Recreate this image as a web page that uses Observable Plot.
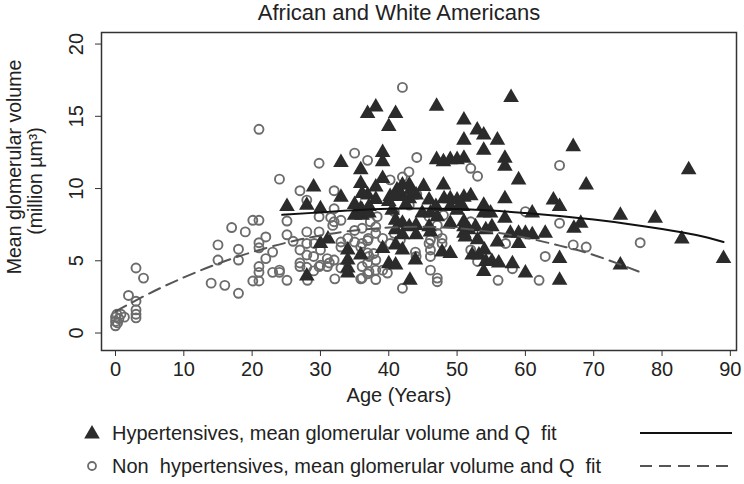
<!DOCTYPE html>
<html>
<head>
<meta charset="utf-8">
<script src="https://cdn.jsdelivr.net/npm/d3@7"></script>
<script src="https://cdn.jsdelivr.net/npm/@observablehq/plot@0.6"></script>
<style>
  body { margin: 0; background: #fff; }
  #wrap { position: relative; width: 744px; height: 484px; overflow: hidden; font-family: "Liberation Sans", Arial, Helvetica, sans-serif; color: #222; }
  #title { position: absolute; top: 0; left: 99px; width: 600px; text-align: center; font-size: 22px; line-height: 25px; color: #222; }
  #chart { position: absolute; top: 0; left: 0; }
  #overlay { position: absolute; top: 0; left: 0; }
</style>
</head>
<body>
<div id="wrap">
  <div id="chart"></div>
  <div id="title">African and White Americans</div>
  <svg id="overlay" width="744" height="484"></svg>
</div>
<script>
// ---- data ----
const xTicks = [0, 10, 20, 30, 40, 50, 60, 70, 80, 90];
const yTicks = [0, 5, 10, 15, 20];

// Hypertensives (triangles)
const hypAge = [25.1,28.0,29.0,28.0,30.0,31.1,30.0,33.0,33.0,35.9,36.9,35.9,35.0,35.9,35.0,36.9,34.0,34.0,34.0,34.0,35.9,
  38.1,41.0,40.0,47.0,51.0,51.0,39.1,39.1,47,48,49,50,51,39.1,38.1,42,43,45.1,48,41,42,43,44,40,36.1,38.1,37.1,36.1,
  45.9,46.9,48.1,49,50,51,52,41,42,41,43,42,44,44,46.1,49,51,51,36.1,37.1,39.1,41,42,40,43.9,47.8,49,43.1,
  44.9,45.9,49,50,46.1,47.1,40.5,42.5,41.2,41,
  57.9,52.95,53.9,55.9,53.9,57,57,59,67,50.8,57,53.9,54.9,53.9,57,61,64.1,65,67.1,51.7,52.7,54.2,55.1,53,51.2,
  57.8,59,60,61,62.9,59,55.9,52.2,53.2,54.2,55.1,56.1,58.1,53.9,60,65,65,
  68.9,83.9,73.9,79,82.9,89,73.9,68.1,51,54,40.2,43.2];
const hypVol = [8.75,8.85,10.1,3.95,6.2,6.5,8.6,11.8,9.4,11.3,15.2,10.35,8.9,8.6,8.15,9.55,5.75,5.05,4.5,4.15,5.4,
  15.65,15.2,14.3,15.7,14.75,13.35,12.5,11.85,12.0,11.85,12.0,12.0,12.1,10.7,10.1,10.25,10.25,10.15,10.25,9.6,9.45,9.3,9.55,9.1,9.65,9.25,8.75,8.5,
  9.2,8.75,9.3,9.3,9.2,9.4,9.5,7.8,7.6,7.15,7.35,6.8,7.45,6.8,7.0,7.6,7.7,6.9,8.15,8.3,5.85,6.1,5.75,4.8,5.05,5.6,5.5,3.65,
  8.3,7.35,8.75,8.5,8.3,8.05,8.5,8.9,9.9,4.7,
  16.3,14.05,13.7,13.35,12.65,12.1,11.55,10.6,12.9,8.75,9.3,8.85,8.3,8.3,7.95,8.3,9.2,8.75,7.25,7.15,7.35,7.15,7.35,6.45,6.65,
  6.9,6.9,6.9,6.8,6.9,6.2,6.3,5.4,5.4,4.95,4.95,4.85,4.8,4.25,4.15,5.15,3.65,
  10.25,11.3,8.15,7.95,6.5,5.15,4.7,7.6,7.35,5.75,9.45,9.9];

// Non hypertensives (circles)
const nonAge = [0,0,0,0.3,0.5,0.8,1.3,0.2,1.9,3.0,4.1,3.0,3.0,3.0,3.0,
  15,15,14,16,17,18,18,18,19,20.1,20.1,
  21,24,27,29.8,
  21,22,21,21,23,22,21,21,21,23,24,24,25.1,25.1,25.1,26,27,28,27,28,29,29,29.1,29.8,29.8,29.8,28,
  28,28.1,30,31,31.3,32,32,32,33,33,32.1,35,35.9,35.9,36.9,36.9,36.9,36.9,33,32,35,36.9,
  42,44.1,42.95,42,40.2,44.1,40.8,43,48,47.1,38.1,38.1,37,36.1,39.1,37.1,38.1,36.1,37.1,38.1,39.1,36.1,38.1,42,
  46.1,47.1,47.1,46.1,46.1,47.8,47.8,47.1,40.8,41.7,40.2,43.9,
  60,65,67,62.9,57.1,58.1,56,62,52,52,53,52,53,65,76.8,68.9,
  31.5,31.8,36.1,37.3,38.3,28,34,35,33,37.8,30,31,27,39.8,44,45.9,45.9,46.1];
const nonVol = [0.5,0.8,1.1,0.7,1.0,1.3,1.1,1.3,2.6,4.5,3.8,2.2,1.6,1.3,1.05,
  6.1,5.05,3.45,3.3,7.3,5.8,5.05,2.75,7.0,7.8,3.6,
  14.1,10.65,9.85,11.75,
  7.8,6.65,6.25,5.9,5.6,5.15,4.6,4.2,3.6,4.2,4.35,4.2,3.65,7.75,6.8,6.35,5.75,7.0,4.6,5.4,5.3,4.3,6.2,8.05,7.0,4.6,9.2,
  4.55,3.65,4.7,4.6,4.85,5.05,8.6,7.7,7.8,6.3,3.75,7.1,5.95,3.75,6.4,5.55,4.85,4.1,4.5,9.85,12.45,11.95,
  17.0,12.15,11.15,10.8,10.6,9.6,8.4,8.85,8.15,7.45,7.35,6.9,6.55,6.2,6.55,5.3,5.05,4.6,4.25,4.35,4.35,3.8,3.7,3.1,
  4.35,3.8,3.55,5.75,5.3,6.55,6.2,6.9,6.9,6.45,6.2,5.6,
  8.4,7.6,6.1,5.3,6.2,4.45,3.65,3.65,7.7,5.75,4.95,11.4,10.85,11.6,6.25,5.95,
  8.0,7.45,7.25,7.7,8.05,6.2,6.55,6.3,5.95,5.5,5.75,5.15,4.85,4.15,5.3,6.2,8.05,6.45];

// Quadratic fit curves
const fitHypAge = [24.4,30,35,40,45,50,55,60,65,70,75,80,85,89];
const fitHypVol = [8.18,8.35,8.5,8.6,8.62,8.58,8.48,8.3,8.1,7.85,7.55,7.2,6.78,6.3];
const fitNonAge = [0,5,10,15,20,25,30,35,40,45,50,55,60,65,70,76.6];
const fitNonVol = [1.5,2.75,3.85,4.8,5.6,6.25,6.75,7.1,7.3,7.35,7.25,7.0,6.6,6.05,5.4,4.25];

const yTitle = ["Mean glomerular volume", "(million µm³)"];
const xTitle = "Age (Years)";
const legendLabels = [
  "Hypertensives, mean glomerular volume and Q  fit",
  "Non  hypertensives, mean glomerular volume and Q  fit"
];

// ---- tables ----
const hyp = hypAge.map((a, i) => ({age: a, vol: hypVol[i]}));
const non = nonAge.map((a, i) => ({age: a, vol: nonVol[i]}));
const fitHyp = fitHypAge.map((a, i) => ({age: a, vol: fitHypVol[i]}));
const fitNon = fitNonAge.map((a, i) => ({age: a, vol: fitNonVol[i]}));

const FONT = "Liberation Sans, Arial, Helvetica, sans-serif";
const TRI = "#2b2b2b", CIRC = "#6c6c6c", DASH = "#555555";
const TRI_R = 5.8, CIRC_R = 4.5;

const chart = Plot.plot({
  width: 744,
  height: 420,
  marginLeft: 101,
  marginRight: 8,
  marginTop: 32,
  marginBottom: 70,
  style: {fontFamily: FONT, fontSize: "20px", color: "#222", background: "transparent", overflow: "visible"},
  x: {domain: [-2.05, 90.9]},
  y: {domain: [-1.21, 20.8]},
  marks: [
    Plot.dot(non, {x: "age", y: "vol", r: CIRC_R, fill: "none", stroke: CIRC, strokeWidth: 1.9}),
    Plot.dot(hyp, {x: "age", y: "vol", symbol: "triangle", r: TRI_R, fill: TRI, stroke: "none"}),
    Plot.line(fitHyp, {x: "age", y: "vol", stroke: "#111", strokeWidth: 2, curve: "natural"}),
    Plot.line(fitNon, {x: "age", y: "vol", stroke: DASH, strokeWidth: 2, strokeDasharray: "12,7", curve: "natural"}),
    Plot.frame({stroke: "#333", strokeWidth: 1.5}),
    Plot.axisX({ticks: xTicks, tickSize: 6, tickPadding: 5, label: null, fontSize: 20, stroke: "#333"}),
    Plot.axisY({ticks: yTicks, tickSize: 6, tickFormat: () => "", label: null, stroke: "#333"}),
    Plot.text(yTicks, {y: d => d, text: d => String(d), frameAnchor: "left", rotate: -90,
      textAnchor: "middle", lineAnchor: "bottom", dx: -19, fontSize: 20, fill: "#222"}),
    Plot.text([xTitle], {frameAnchor: "bottom", textAnchor: "middle", dx: -20, dy: 51, fontSize: 20, fill: "#222"})
  ]
});
document.getElementById("chart").appendChild(chart);

// ---- y-axis title and legend (outside the plot frame) ----
const ov = d3.select("#overlay");
[[14, 167], [35, 181]].forEach(([cx, cy], i) => {
  ov.append("text").attr("transform", `translate(${cx},${cy}) rotate(-90)`)
    .attr("text-anchor", "middle").attr("dy", "0.35em")
    .attr("font-family", FONT).attr("font-size", 19.5).attr("fill", "#222").text(yTitle[i]);
});

const rows = [433, 466];
const tri = d3.symbol(d3.symbolTriangle, TRI_R * TRI_R * Math.PI)();
ov.append("path").attr("d", tri).attr("transform", `translate(92,${rows[0] + 1})`).attr("fill", TRI);
ov.append("circle").attr("cx", 92).attr("cy", rows[1]).attr("r", 4).attr("fill", "none").attr("stroke", CIRC).attr("stroke-width", 1.8);
legendLabels.forEach((t, i) => {
  ov.append("text").attr("x", 112).attr("y", rows[i] + 7).attr("style", "white-space:pre")
    .attr("font-family", FONT).attr("font-size", 20).attr("fill", "#222").text(t);
});
ov.append("line").attr("x1", 640).attr("x2", 732).attr("y1", rows[0]).attr("y2", rows[0]).attr("stroke", "#111").attr("stroke-width", 2);
ov.append("line").attr("x1", 640).attr("x2", 732).attr("y1", rows[1]).attr("y2", rows[1]).attr("stroke", DASH).attr("stroke-width", 2).attr("stroke-dasharray", "12,7");
</script>
</body>
</html>
